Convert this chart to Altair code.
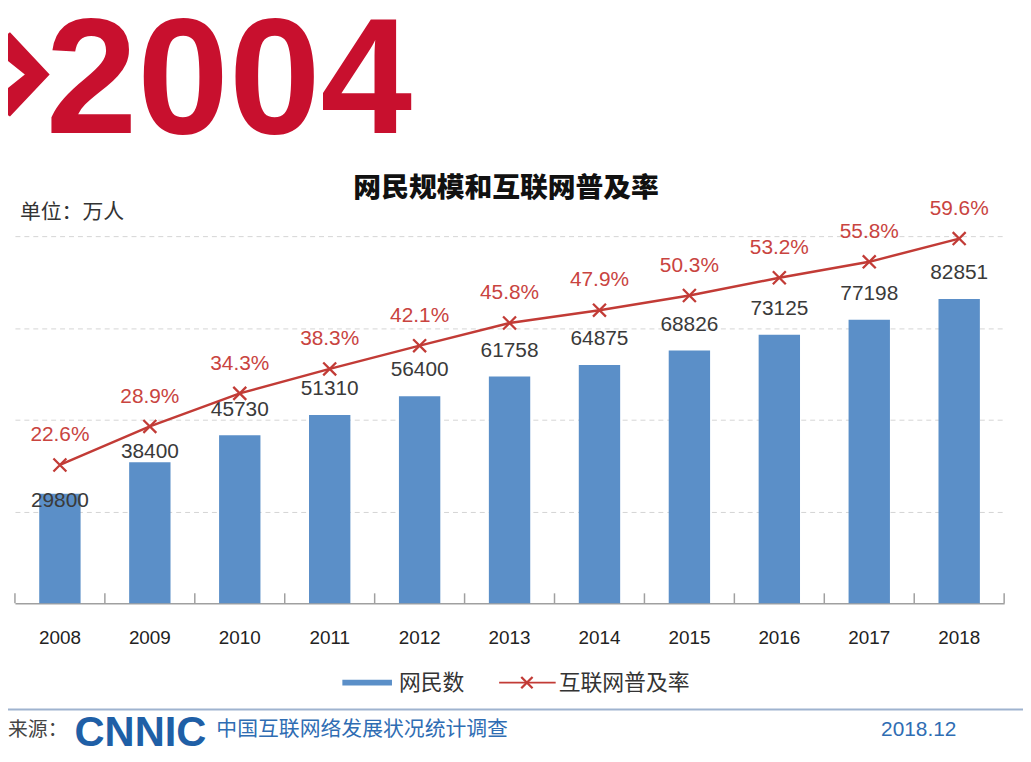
import altair as alt
import pandas as pd

# ---------------- data ----------------
years = ["2008", "2009", "2010", "2011", "2012", "2013", "2014", "2015", "2016", "2017", "2018"]
users = [29800, 38400, 45730, 51310, 56400, 61758, 64875, 68826, 73125, 77198, 82851]
rates = [22.6, 28.9, 34.3, 38.3, 42.1, 45.8, 47.9, 50.3, 53.2, 55.8, 59.6]
grid_values = [25000, 50000, 75000, 100000]

title_text = "网民规模和互联网普及率"
unit_text = "单位：万人"
legend_bar = "网民数"
legend_line = "互联网普及率"
big_text = "2004"
source_label = "来源："
source_logo = "CNNIC"
source_text = "中国互联网络发展状况统计调查"
date_text = "2018.12"

df = pd.DataFrame({
    "year": years,
    "users": users,
    "rate": [r / 100 for r in rates],
    "rate_label": [f"{r:.1f}%" for r in rates],
})

# ---------------- style ----------------
W, H = 997, 370
BLUE = "#5b8fc8"
RED = "#c23b36"
RED_TXT = "#c9443f"
BIG_RED = "#c8102e"
DARK = "#333333"
FOOT = "#2f6db3"
CJK = "Noto Sans CJK SC"
LAT = "Liberation Sans"
CROSS = "M-1,-1L1,1M1,-1L-1,1"
CHEVRON = "M-0.353,-1L0.588,0L-0.353,1L-0.824,0.659L0,0L-0.824,-0.659Z"

xenc = alt.X(
    "year:N", sort=years, title=None,
    scale=alt.Scale(paddingInner=0, paddingOuter=0),
    axis=alt.Axis(labelAngle=0, labelFont=LAT, labelFontSize=19, labelColor="#222222",
                  labelPadding=26, ticks=False, tickSize=0, domainColor="#a0a0a0",
                  domainWidth=1.5, grid=False),
)
yusers = alt.Y(
    "users:Q", title=None,
    scale=alt.Scale(domain=[0, 100000], nice=False),
    axis=alt.Axis(values=grid_values, grid=True, gridDash=[5, 4], gridColor="#d4d4d4",
                  gridWidth=1, labels=False, ticks=False, domain=False),
)
yrate = alt.Y("rate:Q", title=None, scale=alt.Scale(domain=[0, 0.6], nice=False), axis=None)

base = alt.Chart(df)

bars = base.mark_bar(color=BLUE, width=alt.RelativeBandSize(0.46)).encode(x=xenc, y=yusers)

ticks = base.mark_rule(color="#a0a0a0", strokeWidth=1.5).encode(
    x=alt.X("year:N", sort=years, bandPosition=0),
    y=alt.value(H - 10), y2=alt.value(H),
)
end_tick = alt.Chart(alt.Data(values=[{"a": 1}])).mark_rule(color="#a0a0a0", strokeWidth=1.5).encode(
    x=alt.value(W), y=alt.value(H - 10), y2=alt.value(H)
)

lab_kw = dict(font=LAT, fontSize=21, color="#3a3a3a", baseline="middle", align="center")
bar_lab_main = base.transform_filter(
    (alt.datum.year != "2008") & (alt.datum.year != "2009")
).mark_text(dy=-26, **lab_kw).encode(
    x=alt.X("year:N", sort=years), y=yusers, text="users:Q")
bar_lab_08 = base.transform_filter(alt.datum.year == "2008").mark_text(dy=7, **lab_kw).encode(
    x=alt.X("year:N", sort=years), y=yusers, text="users:Q")
bar_lab_09 = base.transform_filter(alt.datum.year == "2009").mark_text(dy=-10, **lab_kw).encode(
    x=alt.X("year:N", sort=years), y=yusers, text="users:Q")

bar_group = alt.layer(bars, ticks, end_tick, bar_lab_main, bar_lab_08, bar_lab_09)

line = base.mark_line(color=RED, strokeWidth=2.5).encode(x=alt.X("year:N", sort=years), y=yrate)
pts = base.mark_point(shape=CROSS, size=170, filled=False, color=RED, strokeWidth=2.3, opacity=1).encode(
    x=alt.X("year:N", sort=years), y=yrate)
rate_lab = base.mark_text(dy=-30, font=LAT, fontSize=21, color=RED_TXT, baseline="middle").encode(
    x=alt.X("year:N", sort=years), y=yrate, text="rate_label:N")

line_group = alt.layer(line, pts, rate_lab)

# ---------------- annotations ----------------
one = alt.Data(values=[{"a": 1}])


def txt(s, x, y, size, color, font=CJK, weight="normal", align="left", baseline="middle"):
    return alt.Chart(one).mark_text(
        text=s, fontSize=size, color=color, font=font, fontWeight=weight,
        align=align, baseline=baseline
    ).encode(x=alt.value(x), y=alt.value(y))


def hrule(x1, x2, y, color, width):
    return alt.Chart(one).mark_rule(color=color, strokeWidth=width).encode(
        x=alt.value(x1), x2=alt.value(x2), y=alt.value(y))


chevron = alt.Chart(one).mark_point(shape=CHEVRON, size=7225, filled=True, color=BIG_RED,
                                    opacity=1, strokeWidth=0).encode(
    x=alt.value(10), y=alt.value(-163))
big = txt(big_text, 31, -104, 166, BIG_RED, font=LAT, weight="bold", baseline="alphabetic")
title = txt(title_text, 495, -47, 28, "#111111", weight=900, align="center")
unit = txt(unit_text, 5, -23, 21, DARK)

leg_bar = hrule(330, 380, 450, BLUE, 6)
leg_bar_t = txt(legend_bar, 387, 450, 22, DARK)
leg_line = hrule(488, 545, 450, RED, 2)
leg_pt = alt.Chart(one).mark_point(shape=CROSS, size=130, filled=False, color=RED, strokeWidth=2.3,
                                   opacity=1).encode(x=alt.value(516), y=alt.value(450))
leg_line_t = txt(legend_line, 548, 450, 22, DARK)

foot_line = hrule(-15, 1016, 477, "#9fb3cf", 2)
src = txt(source_label, -7, 498, 20, "#444444")
logo = txt(source_logo, 60, 501, 42, "#1f5fa6", font=LAT, weight="bold")
src_t = txt(source_text, 203, 498, 21, FOOT)
date = txt(date_text, 873, 498, 21, FOOT, font=LAT)

annotations = alt.layer(chevron, big, title, unit, leg_bar, leg_bar_t, leg_line, leg_pt, leg_line_t,
                        foot_line, src, logo, src_t, date)

chart = alt.layer(bar_group, line_group, annotations).resolve_scale(y="independent").properties(
    width=W, height=H,
    autosize=alt.AutoSizeParams(type="none"),
    padding={"left": 7, "top": 227, "right": 19, "bottom": 149},
    background="white",
).configure_view(stroke=None)

chart.save("out.html", embed_options={"renderer": "svg", "actions": False})
